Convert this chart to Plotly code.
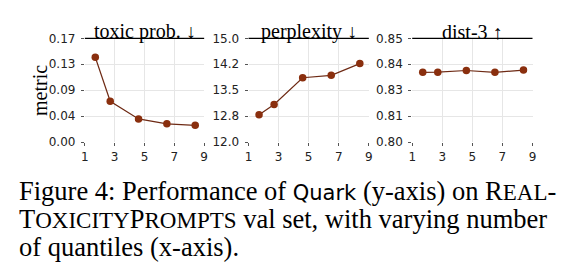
import plotly.graph_objects as go

# data
x_quantiles = [1.7, 2.7, 4.6, 6.5, 8.4]
toxic_prob = [0.139, 0.067, 0.038, 0.030, 0.0275]
perplexity = [12.79, 13.09, 13.86, 13.93, 14.27]
dist3 = [0.8336, 0.8337, 0.8345, 0.8336, 0.8347]

titles = ["toxic prob. ↓", "perplexity ↓", "dist-3 ↑"]
x_ticks = [1, 3, 5, 7, 9]
y_ranges = [[0.0, 0.17], [12.0, 15.0], [0.80, 0.85]]
y_tickvals = [[0.0, 0.0425, 0.085, 0.1275, 0.17],
              [12.0, 12.75, 13.5, 14.25, 15.0],
              [0.80, 0.8125, 0.825, 0.8375, 0.85]]
y_ticktext = [["0.00", "0.04", "0.09", "0.13", "0.17"],
              ["12.0", "12.8", "13.5", "14.2", "15.0"],
              ["0.80", "0.81", "0.83", "0.84", "0.85"]]
series = [toxic_prob, perplexity, dist3]

W, H = 572, 272
x_domains = [[82 / W, 203 / W], [248 / W, 370 / W], [414 / W, 536 / W]]
y_domain = [1 - 142.5 / H, 1 - 33 / H]

fig = go.Figure()
layout = dict(
    width=W, height=H, margin=dict(l=0, r=0, t=0, b=0),
    paper_bgcolor="white", plot_bgcolor="white", showlegend=False,
)
tickfont = dict(family="DejaVu Sans", size=12, color="#222")
for i in range(3):
    xa = "xaxis" if i == 0 else f"xaxis{i+1}"
    ya = "yaxis" if i == 0 else f"yaxis{i+1}"
    xr = "x" if i == 0 else f"x{i+1}"
    yr = "y" if i == 0 else f"y{i+1}"
    fig.add_trace(go.Scatter(
        x=x_quantiles, y=series[i], mode="lines+markers", xaxis=xr, yaxis=yr,
        line=dict(color="#6e2a14", width=1.2),
        marker=dict(color="#8a2f0e", size=7.5),
    ))
    layout[xa] = dict(domain=x_domains[i], anchor=yr, range=[1, 9], tickvals=x_ticks,
                      showgrid=True, gridcolor="#e6e6e6", gridwidth=1, zeroline=False,
                      showline=False, ticks="outside", ticklen=3, tickcolor="#555",
                      tickfont=tickfont)
    layout[ya] = dict(domain=y_domain, anchor=xr, range=y_ranges[i], tickvals=y_tickvals[i],
                      ticktext=y_ticktext[i], showgrid=True, gridcolor="#e6e6e6", gridwidth=1,
                      zeroline=False, showline=False, ticks="outside", ticklen=3,
                      tickcolor="#555", tickfont=tickfont, ticklabelstandoff=3)
fig.update_layout(**layout)

shapes = []
annotations = []
for i in range(3):
    xr = "x" if i == 0 else f"x{i+1}"
    yr = "y" if i == 0 else f"y{i+1}"
    shapes.append(dict(type="line", xref=f"{xr} domain", yref=f"{yr} domain",
                       x0=0, x1=1, y0=1, y1=1, line=dict(color="black", width=1.3)))
    annotations.append(dict(text=titles[i], xref=f"{xr} domain", yref=f"{yr} domain",
                            x=0.5, y=1, xanchor="center", yanchor="bottom", yshift=-7,
                            showarrow=False,
                            font=dict(family="Liberation Serif", size=20, color="black")))

annotations.append(dict(text="metric", xref="paper", yref="paper", x=37 / W, y=1 - 88 / H,
                        xanchor="center", yanchor="middle", textangle=-90, showarrow=False,
                        font=dict(family="Liberation Serif", size=20, color="black")))

big = "font-size:26.5px"
sc = "font-size:23px"
caption = "<br>".join([
    "<span style='" + big + "'>Figure 4: Performance of </span>"
    "<span style='font-family:DejaVu Sans;font-size:21px'>Quark</span>"
    "<span style='" + big + "'> (y-axis) on R</span><span style='" + sc + "'>EAL</span>"
    "<span style='" + big + "'>-</span>",
    "<span style='" + big + "'>T</span><span style='" + sc + "'>OXICITY</span>"
    "<span style='" + big + "'>P</span><span style='" + sc + "'>ROMPTS</span>"
    "<span style='" + big + "'> val set, with varying number</span>",
    "<span style='" + big + "'>of quantiles (x-axis).</span>",
])
annotations.append(dict(text=caption, xref="paper", yref="paper", x=13 / W, y=1 - 176 / H,
                        xanchor="left", yanchor="top", align="left", showarrow=False,
                        font=dict(family="Liberation Serif", size=21.5, color="black")))

fig.update_layout(shapes=shapes, annotations=annotations)
fig.write_html("out.html")
